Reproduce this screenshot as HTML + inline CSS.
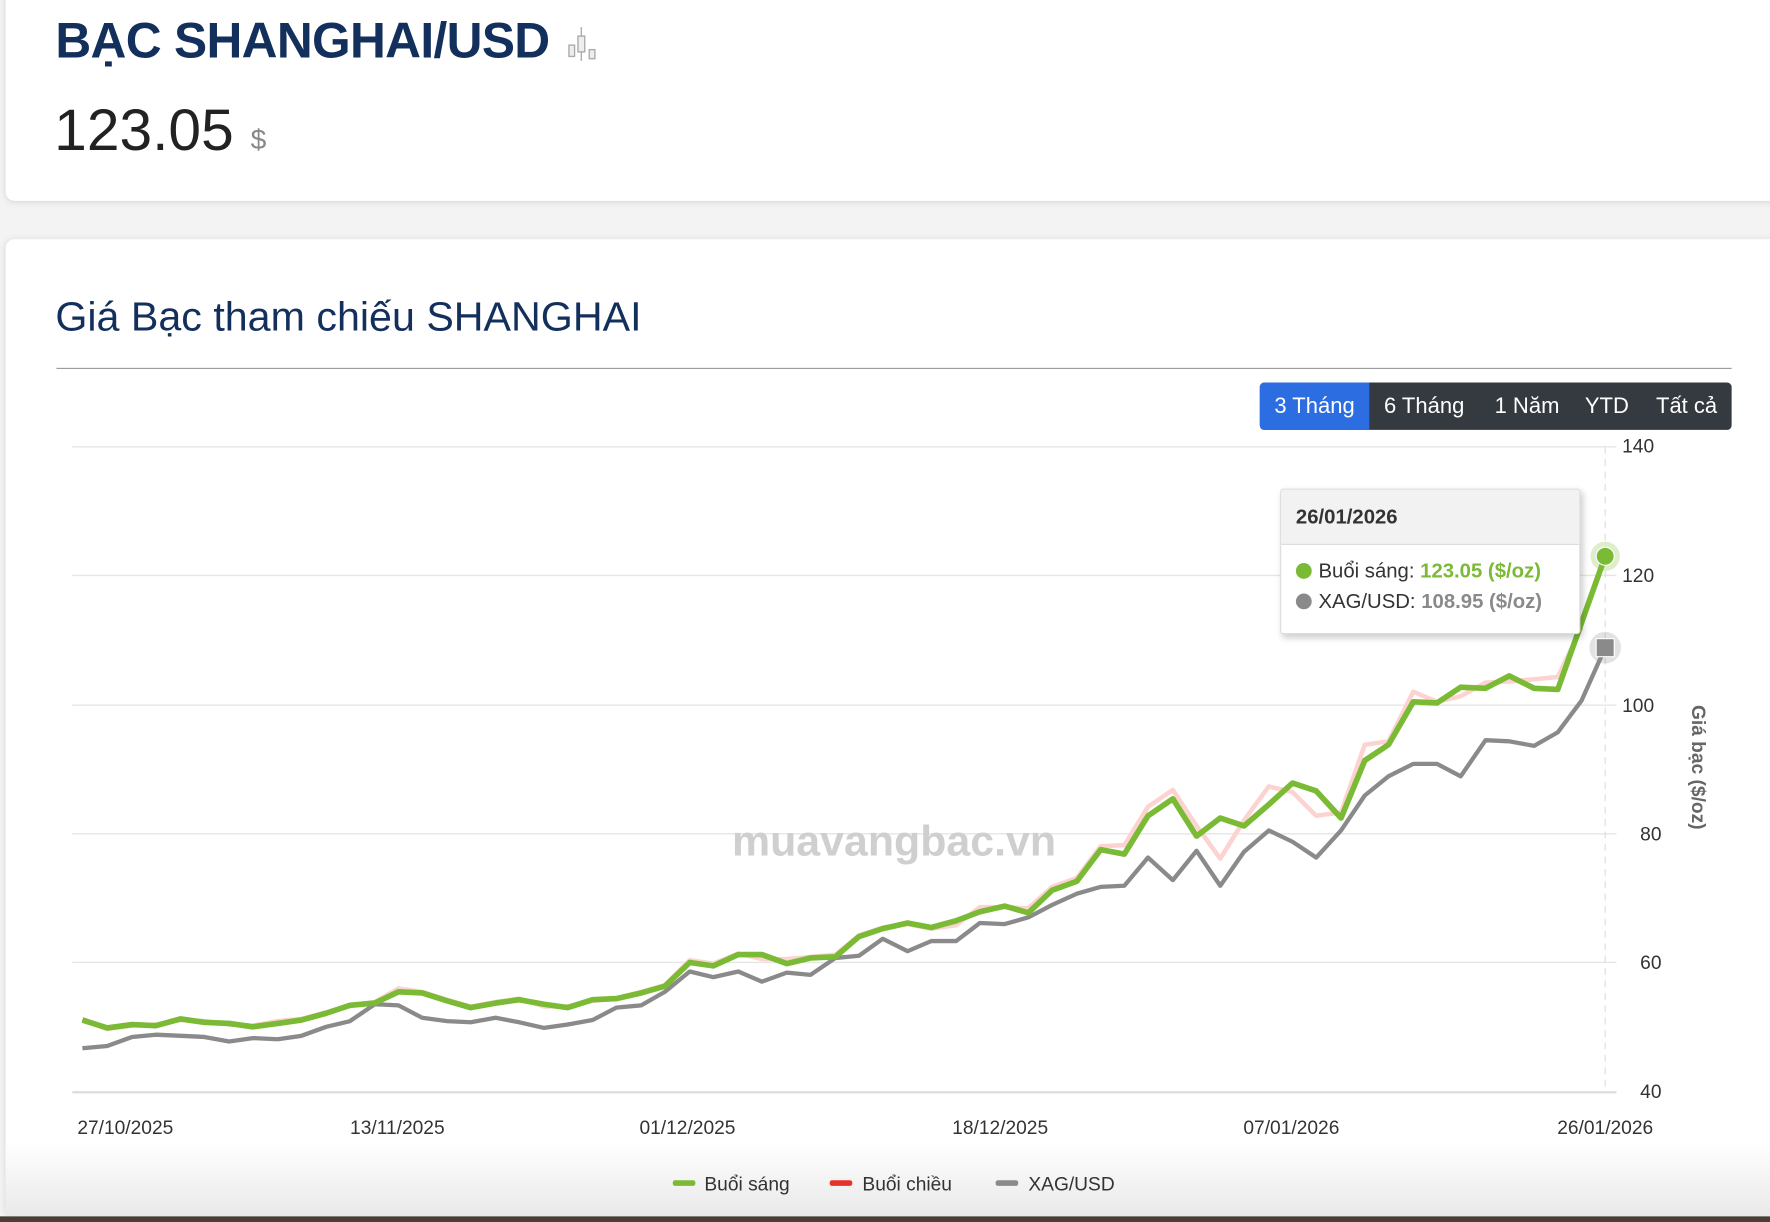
<!DOCTYPE html>
<html><head><meta charset="utf-8"><style>
html,body{margin:0;padding:0;width:1770px;height:1222px;overflow:hidden;background:#f2f2f2;font-family:"Liberation Sans",sans-serif;}
#w{position:absolute;left:0;top:0;width:1568px;height:1083px;transform:scale(1.12883,1.12835);transform-origin:0 0;background:#f3f3f3;overflow:hidden;}
.card{position:absolute;background:#fff;border-radius:8px;box-shadow:0 1px 6px rgba(0,0,0,.12);}
</style></head><body><div id="w">
<div class="card" style="left:5px;top:-10px;width:1600px;height:188px"></div>
<div class="card" style="left:5px;top:212px;width:1600px;height:866px;background:linear-gradient(#fff,#fff 800px,#e9e9e9)"></div>
<div style="position:absolute;left:0;top:1078px;width:1568px;height:5px;background:#4a3d35"></div>
<div style="position:absolute;left:49px;top:12px;font-size:44px;font-weight:bold;color:#132f5c;letter-spacing:-0.6px">BẠC SHANGHAI/USD</div>
<svg style="position:absolute;left:500px;top:22px" width="30" height="34"><g stroke="#aaa" fill="#eee" stroke-width="1.2"><line x1="15" y1="2" x2="15" y2="32"/><rect x="12" y="10" width="6" height="14"/><rect x="4" y="18" width="5" height="10"/><rect x="22" y="22" width="5" height="8"/></g></svg>
<div style="position:absolute;left:48px;top:86px;font-size:52px;color:#222">123.05</div>
<div style="position:absolute;left:222px;top:110px;font-size:25px;color:#888">$</div>
<div style="position:absolute;left:49px;top:260px;font-size:36.5px;color:#132f5c">Giá Bạc tham chiếu SHANGHAI</div>
<div style="position:absolute;left:50px;top:326px;width:1484px;height:1px;background:#999"></div>
<div style="position:absolute;left:1116px;top:339px;width:418px;height:42px;background:#343a40;border-radius:4px;overflow:hidden;color:#fff;font-size:19.5px;line-height:42px">
<span style="position:absolute;left:0;width:97px;height:42px;background:#2c6ee2;text-align:center">3 Tháng</span>
<span style="position:absolute;left:110px">6 Tháng</span><span style="position:absolute;left:208px">1 Năm</span><span style="position:absolute;left:288px">YTD</span><span style="position:absolute;left:351px">Tất cả</span></div>
<svg style="position:absolute;left:0;top:0" width="1568" height="1083" font-family="Liberation Sans, sans-serif">
<g stroke="#e6e6e6" stroke-width="1.2"><line x1="64" y1="396" x2="1432" y2="396"/><line x1="64" y1="510" x2="1432" y2="510"/><line x1="64" y1="625" x2="1432" y2="625"/><line x1="64" y1="739" x2="1432" y2="739"/><line x1="64" y1="853" x2="1432" y2="853"/><line x1="64" y1="968" x2="1432" y2="968" stroke="#ddd" stroke-width="2"/></g>
<line x1="1422" y1="396" x2="1422" y2="968" stroke="#ddd" stroke-dasharray="6,5"/>
<g font-size="17" fill="#333"><text x="1437" y="401">140</text><text x="1437" y="516">120</text><text x="1437" y="631">100</text><text x="1453" y="745">80</text><text x="1453" y="859">60</text><text x="1453" y="973">40</text></g>
<text transform="translate(1499,680) rotate(90)" text-anchor="middle" font-size="17" font-weight="bold" fill="#666">Giá bạc ($/oz)</text>
<g font-size="17" fill="#333" text-anchor="middle"><text x="111" y="1005">27/10/2025</text><text x="352" y="1005">13/11/2025</text><text x="609" y="1005">01/12/2025</text><text x="886" y="1005">18/12/2025</text><text x="1144" y="1005">07/01/2026</text><text x="1422" y="1005">26/01/2026</text></g>
<text x="792" y="758" text-anchor="middle" font-size="38" font-weight="bold" fill="#cfcfcf">muavangbac.vn</text>
<polyline fill="none" stroke="#fcd3d0" stroke-width="4" stroke-linejoin="round" points="73,903 95,912 117,909 138,908 160,904 181,905 203,908 224,909 246,905 267,903 289,897 310,891 332,888 353,876 374,879 396,886 417,892 439,888 460,885 482,892 503,892 525,887 546,885 568,879 589,873 611,851 632,854 654,845 675,850 697,850 718,848 740,846 761,829 782,822 804,819 825,823 847,820 868,804 890,804 911,805 932,786 954,778 975,750 996,749 1017,715 1039,700 1060,732 1081,761 1102,727 1124,697 1145,702 1166,723 1188,720 1209,660 1230,657 1252,613 1273,622 1294,617 1316,605 1337,604 1359,602 1380,600 1401,556"/>
<polyline fill="none" stroke="#8a8a8a" stroke-width="3.8" stroke-linejoin="round" points="73,929 95,927 117,919 138,917 160,918 181,919 203,923 224,920 246,921 267,918 289,910 310,905 332,890 353,891 374,902 396,905 417,906 439,902 460,906 482,911 503,908 525,904 546,893 568,891 589,879 611,861 632,866 654,861 675,870 697,862 718,864 740,849 761,847 782,832 804,843 825,834 847,834 868,818 890,819 911,813 932,802 954,792 975,786 996,785 1017,760 1039,780 1060,754 1081,785 1102,755 1124,736 1145,746 1166,760 1188,736 1209,705 1230,688 1252,677 1273,677 1294,688 1316,656 1337,657 1359,661 1380,649 1401,621 1422,574"/>
<polyline fill="none" stroke="#7aba35" stroke-width="5" stroke-linejoin="round" points="73,904 95,911 117,908 138,909 160,903 181,906 203,907 224,910 246,907 267,904 289,898 310,891 332,889 353,879 374,880 396,887 417,893 439,889 460,886 482,890 503,893 525,886 546,885 568,880 589,874 611,853 632,856 654,846 675,846 697,854 718,849 740,848 761,830 782,823 804,818 825,822 847,816 868,808 890,803 911,809 932,789 954,781 975,753 996,757 1017,723 1039,708 1060,741 1081,725 1102,732 1124,713 1145,694 1166,701 1188,725 1209,674 1230,660 1252,622 1273,623 1294,609 1316,610 1337,599 1359,610 1380,611 1401,552 1422,493"/>
<circle cx="1422" cy="493" r="13" fill="#7aba35" opacity=".25"/><circle cx="1422" cy="493" r="8" fill="#7aba35" stroke="#fff" stroke-width="1"/>
<circle cx="1422" cy="574" r="14" fill="#8a8a8a" opacity=".25"/><rect x="1414" y="566" width="16" height="16" fill="#8a8a8a" stroke="#fff"/>
<g transform="translate(596,1049)" font-size="17" fill="#333"><rect x="0" y="-3" width="20" height="5" rx="2" fill="#7aba35"/><text x="28" y="6">Buổi sáng</text><rect x="139" y="-3" width="20" height="5" rx="2" fill="#e5332a"/><text x="168" y="6">Buổi chiều</text><rect x="286" y="-3" width="20" height="5" rx="2" fill="#8a8a8a"/><text x="315" y="6">XAG/USD</text></g>
</svg>
<div style="position:absolute;left:1134px;top:433px;width:264px;height:127px;background:#fff;border:1px solid #ddd;border-radius:3px;box-shadow:2px 3px 6px rgba(0,0,0,.2);font-size:18px;overflow:hidden">
<div style="height:48px;background:#f2f2f2;border-bottom:1px solid #ddd;font-weight:bold;color:#333;line-height:48px;padding-left:13px">26/01/2026</div>
<div style="position:absolute;left:13px;top:62px;color:#333;white-space:nowrap"><span style="display:inline-block;width:14px;height:14px;border-radius:7px;background:#7aba35;vertical-align:-1px;margin-right:6px"></span>Buổi sáng: <b style="color:#7aba35">123.05 ($/oz)</b></div>
<div style="position:absolute;left:13px;top:89px;color:#333;white-space:nowrap"><span style="display:inline-block;width:14px;height:14px;border-radius:7px;background:#8a8a8a;vertical-align:-1px;margin-right:6px"></span>XAG/USD: <b style="color:#8a8a8a">108.95 ($/oz)</b></div>
</div>
</div></body></html>
